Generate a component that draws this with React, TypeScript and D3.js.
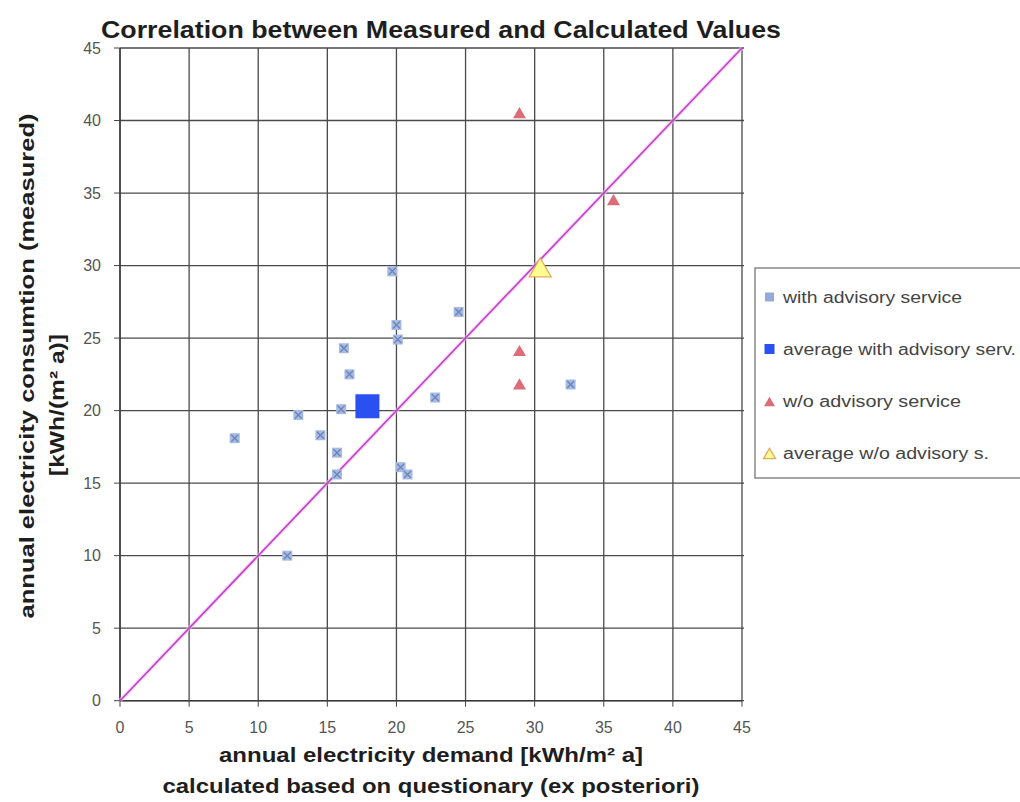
import React from "react";
import * as d3 from "d3";

const withAdvX = [19.7, 20.0, 20.1, 16.2, 16.6, 16.0, 12.9, 8.3, 14.5, 15.7, 15.7, 20.3, 20.8, 12.1, 22.8, 24.5, 32.6];
const withAdvY = [29.6, 25.9, 24.9, 24.3, 22.5, 20.1, 19.7, 18.1, 18.3, 17.1, 15.6, 16.1, 15.6, 10.0, 20.9, 26.8, 21.8];
const avgWithX = [17.9];
const avgWithY = [20.3];
const woAdvX = [28.9, 35.7, 28.9, 28.9];
const woAdvY = [40.5, 34.5, 24.1, 21.8];
const avgWoX = [30.4];
const avgWoY = [29.8];
const ticks = [0, 5, 10, 15, 20, 25, 30, 35, 40, 45];
const legendLabels = ["with advisory service", "average with advisory serv.", "w/o advisory service", "average w/o advisory s."];
const legendWidths = [179, 233, 178, 206];

const W = 1020, H = 802;
const x = d3.scaleLinear().domain([0, 45]).range([120, 742]);
const y = d3.scaleLinear().domain([0, 45]).range([700.7, 48]);
const font = "Liberation Sans, Arial, sans-serif";

function Star({ cx, cy, s = 5 }: { cx: number; cy: number; s?: number }) {
  return (
    <g>
      <rect x={cx - s} y={cy - s} width={2 * s} height={2 * s} fill="#a7bbe2" />
      <path d={`M${cx - s + 1.5},${cy - s + 1.5}L${cx + s - 1.5},${cy + s - 1.5}M${cx - s + 1.5},${cy + s - 1.5}L${cx + s - 1.5},${cy - s + 1.5}`} stroke="#6b85ba" strokeWidth={1.4} />
    </g>
  );
}
function Tri({ cx, cy, s, fill, stroke }: { cx: number; cy: number; s: number; fill: string; stroke?: string }) {
  const h = s * 0.95;
  return <path d={`M${cx},${cy - h}L${cx + s},${cy + h * 0.8}L${cx - s},${cy + h * 0.8}Z`} fill={fill} stroke={stroke || "none"} strokeWidth={1.3} />;
}

export default function App() {
  const diag = d3.line<number>().x((d) => x(d)).y((d) => y(d))([0, 45]) || "";
  const cx = (x(0) + x(45)) / 2;
  return (
    <div style={{ position: "absolute", left: 0, top: 0 }}>
      <svg width={W} height={H} style={{ display: "block", background: "#fff" }} fontFamily={font}>
        <text x={441} y={38} textAnchor="middle" fontSize={24} fontWeight="bold" fill="#1e1e1e" textLength={680} lengthAdjust="spacingAndGlyphs">Correlation between Measured and Calculated Values</text>
        {ticks.map((t) => (
          <line key={"v" + t} x1={x(t)} x2={x(t)} y1={y(0)} y2={y(45)} stroke="#4a4a4a" strokeWidth={1.3} />
        ))}
        {ticks.map((t) => (
          <line key={"h" + t} x1={x(0)} x2={x(45) + 2} y1={y(t)} y2={y(t)} stroke="#4a4a4a" strokeWidth={1.3} />
        ))}
        <line x1={x(0)} x2={x(0)} y1={y(0)} y2={y(45)} stroke="#3a3a3a" strokeWidth={1.4} />
        <line x1={x(0)} x2={x(45)} y1={y(0)} y2={y(0)} stroke="#3a3a3a" strokeWidth={1.4} />
        {ticks.map((t) => (
          <g key={"t" + t}>
            <line x1={x(0) - 6} x2={x(0)} y1={y(t)} y2={y(t)} stroke="#444" />
            <line x1={x(t)} x2={x(t)} y1={y(0)} y2={y(0) + 6} stroke="#444" />
            <text x={101} y={y(t) + 5.5} textAnchor="end" fontSize={16} fill="#555">{t}</text>
            <text x={x(t)} y={733} textAnchor="middle" fontSize={16} fill="#555">{t}</text>
          </g>
        ))}
        <path d={diag} stroke="#f0c0f0" strokeWidth={4} fill="none" opacity={0.6} />
        <path d={diag} stroke="#c040c8" strokeWidth={1.6} fill="none" />
        {withAdvX.map((v, i) => (
          <Star key={"w" + i} cx={x(v)} cy={y(withAdvY[i])} />
        ))}
        {avgWithX.map((v, i) => (
          <rect key={"aw" + i} x={x(v) - 12} y={y(avgWithY[i]) - 12} width={24} height={24} fill="#2a50f2" />
        ))}
        {woAdvX.map((v, i) => (
          <Tri key={"wo" + i} cx={x(v)} cy={y(woAdvY[i])} s={6.5} fill="#dc6d78" />
        ))}
        {avgWoX.map((v, i) => (
          <Tri key={"awo" + i} cx={x(v)} cy={y(avgWoY[i])} s={11} fill="#ffff90" stroke="#e2aa66" />
        ))}
        <text x={cx} y={762} textAnchor="middle" fontSize={21} fontWeight="bold" fill="#1e1e1e" textLength={424} lengthAdjust="spacingAndGlyphs">annual electricity demand [kWh/m² a]</text>
        <text x={cx} y={793} textAnchor="middle" fontSize={21} fontWeight="bold" fill="#1e1e1e" textLength={537} lengthAdjust="spacingAndGlyphs">calculated based on questionary (ex posteriori)</text>
        <text transform={`translate(34,366) rotate(-90)`} textAnchor="middle" fontSize={21} fontWeight="bold" fill="#1e1e1e" textLength={505} lengthAdjust="spacingAndGlyphs">annual electricity consumtion (measured)</text>
        <text transform={`translate(64,405) rotate(-90)`} textAnchor="middle" fontSize={21} fontWeight="bold" fill="#1e1e1e" textLength={142} lengthAdjust="spacingAndGlyphs">[kWh/(m² a)]</text>
        <rect x={755} y={268} width={280} height={210} fill="#fff" stroke="#777" strokeWidth={1.3} />
        {legendLabels.map((l, i) => {
          const ly = 297 + i * 52;
          return (
            <g key={l}>
              {i === 0 && <rect x={765} y={ly - 4.5} width={9} height={9} fill="#94abd8" />}
              {i === 1 && <rect x={764.5} y={ly - 5} width={10} height={10} fill="#2a50f2" />}
              {i === 2 && <Tri cx={769.5} cy={ly + 1} s={5.5} fill="#dc6d78" />}
              {i === 3 && <Tri cx={769.5} cy={ly + 1} s={6} fill="#ffff90" stroke="#e2aa66" />}
              <text x={783} y={ly + 6} fontSize={16} fill="#444" textLength={legendWidths[i]} lengthAdjust="spacingAndGlyphs">{l}</text>
            </g>
          );
        })}
      </svg>
    </div>
  );
}
